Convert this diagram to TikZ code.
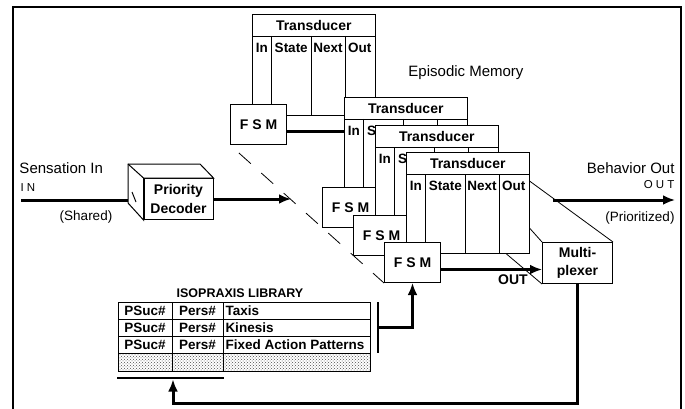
\documentclass[tikz,border=0pt]{standalone}
\usepackage{fontspec}
\setmainfont{Liberation Sans}
\usetikzlibrary{arrows.meta,backgrounds,patterns}

\begin{document}
\begin{tikzpicture}[
  x=1pt, y=-1pt, line width=1pt,
  every node/.style={font=\fontsize{14}{16}\selectfont\bfseries, inner sep=0pt},
  lbl/.style={font=\fontsize{15}{17}\selectfont},
  lblsmall/.style={font=\fontsize{13.5}{15}\selectfont},
  lblspaced/.style={font=\fontsize{11.5}{13}\selectfont},
  tbody/.style={draw, fill=white, anchor=north west, minimum width=122.5pt, minimum height=101pt},
  ttitle/.style={draw, fill=white, anchor=north west, minimum width=122.5pt, minimum height=22pt},
  hdr/.style={font=\fontsize{13.5}{15}\selectfont\bfseries},
  fsm/.style={draw, fill=white, anchor=north west, minimum width=56pt, minimum height=40pt},
  twoline/.style={draw, fill=white, align=center, font=\fontsize{14}{18.5}\selectfont\bfseries},
  cell/.style={font=\fontsize{13.5}{15}\selectfont\bfseries},
  flow/.style={line width=3pt},
  ray/.style={line width=0.8pt},
  frame/.style={line width=2.3pt},
  >={Latex[length=12pt,width=10pt]}
]
\useasboundingbox (0,0) rectangle (685,409);

% --- cadre ---
\draw[frame] (13,409) -- (13,7) -- (681,7) -- (681,409);

% --- entree et decodeur ---
\node[lbl, anchor=west] (sensin) at (19,168) {Sensation In};
\node[lblspaced, anchor=west] (inlbl) at (20,188) {I N};
\node[lblsmall] (shared) at (86,217) {(Shared)};
\coordinate (inpt) at (21,200);
\coordinate (stackin) at (291,199);

\node[twoline, minimum width=69pt, minimum height=41pt] (dec) at (178.5,199) {Priority\\Decoder};
\draw[flow] (inpt) -- (dec.west |- inpt);
\draw[fill=white] (dec.south west) -- (128,203) -- (128,164) -- (200,164) -- (dec.north east) -- (dec.north west) -- cycle;
\draw (dec.north west) -- (128,164);
\draw (132,192) -- (136,202);
\draw[flow,->] (dec.east) -- (stackin);

% --- Transducer 1 ---
\node[tbody] (tA) at (252,14) {};
\node[ttitle] (tAt) at (252,14) {Transducer};
\draw (271.5,36) -- (271.5,115) (311,36) -- (311,115) (345,36) -- (345,115);
\node[hdr] (tAin) at (261.75,48) {In};
\node[hdr] (tAst) at (291.25,48) {State};
\node[hdr] (tAnx) at (328,48) {Next};
\node[hdr] (tAout) at (359.75,48) {Out};
\node[fsm] (fsmA) at (230,104) {F S M};

\node[lbl] (epmem) at (466,73) {Episodic Memory};

% --- Transducer 2 (en partie cache) ---
\node[tbody] (tB) at (344,97) {};
\node[ttitle] (tBt) at (344,97) {Transducer};
\draw (363.5,119) -- (363.5,198) (403,119) -- (403,198) (437,119) -- (437,198);
\node[hdr] (tBin) at (353.75,131) {In};
\node[hdr, anchor=west] (tBst) at (366.5,131) {S};
\node[fsm] (fsmB) at (322,187) {F S M};
\draw[flow] ([yshift=-7pt]fsmA.east) -- ([yshift=-7pt]fsmA.east -| tB.west);

% --- Transducer 3 (en partie cache) ---
\node[tbody] (tC) at (375,125) {};
\node[ttitle] (tCt) at (375,125) {Transducer};
\draw (394.5,147) -- (394.5,226) (434,147) -- (434,226) (468,147) -- (468,226);
\node[hdr] (tCin) at (384.75,159) {In};
\node[hdr, anchor=west] (tCst) at (397.5,159) {S};
\node[fsm] (fsmC) at (353,215) {F S M};

% --- Transducer 4 (devant) ---
\node[tbody] (tD) at (406,152) {};
\node[ttitle] (tDt) at (406,152) {Transducer};
\draw (425.5,174) -- (425.5,253) (465,174) -- (465,253) (499,174) -- (499,253);
\node[hdr] (tDin) at (415.75,186) {In};
\node[hdr] (tDst) at (445.25,186) {State};
\node[hdr] (tDnx) at (482,186) {Next};
\node[hdr] (tDout) at (513.75,186) {Out};
\node[fsm] (fsmD) at (384,242) {F S M};

% --- multiplexeur et sortie ---
\node[twoline, anchor=north west, minimum width=70pt, minimum height=41pt] (mux) at (542,242) {Multi-\\plexer};
\draw[flow,->] ([yshift=-7pt]fsmD.east) -- ([yshift=-7pt]fsmD.east -| mux.west);
\node (outlbl) at (513,280) {OUT};

\coordinate (outsrc) at (553,200);
\coordinate (outdst) at (675,200);
\draw[flow,->] (outsrc) -- (outdst);
\node[lbl, anchor=east] (behout) at (675,168) {Behavior Out};
\node[lblspaced, anchor=east] (outsp) at (675,185) {O U T};
\node[lblsmall, anchor=east] (prio) at (675,218) {(Prioritized)};

% --- lignes de perspective, derriere ---
\begin{scope}[on background layer]
  \draw[ray, dash pattern=on 16pt off 14pt, dash phase=18pt] (fsmA.south west) -- (fsmD.south west);
  \draw[ray] ([yshift=-29pt]tD.north east) -- (mux.north east);
  \draw[ray] ([yshift=-76pt]tD.north east) -- (mux.north west);
  \draw[ray] ([xshift=-23pt]tD.south east) -- (mux.south west);
\end{scope}

% --- bibliotheque ---
\node[font=\fontsize{12.5}{14}\selectfont\bfseries] (libttl) at (240,293) {ISOPRAXIS LIBRARY};
\fill[pattern=crosshatch dots, pattern color=black!70] (118,353) rectangle (370,371);
\draw (118,302) rectangle (370,371);
\draw (118,319) -- (370,319) (118,336) -- (370,336) (118,353) -- (370,353);
\draw (172,302) -- (172,371) (223,302) -- (223,371);
\node[cell] (psA) at (145,310.5) {PSuc\#};
\node[cell] (psB) at (145,327.5) {PSuc\#};
\node[cell] (psC) at (145,344.5) {PSuc\#};
\node[cell] (peA) at (197.5,310.5) {Pers\#};
\node[cell] (peB) at (197.5,327.5) {Pers\#};
\node[cell] (peC) at (197.5,344.5) {Pers\#};
\node[cell, anchor=west] (taxis) at (225,310.5) {Taxis};
\node[cell, anchor=west] (kines) at (225,327.5) {Kinesis};
\node[cell, anchor=west] (fap) at (225,344.5) {Fixed Action Patterns};

\draw[line width=2pt] (378,302) -- (378,353);
\coordinate (libout) at (378,327);
\draw[flow,->] (libout) -| (fsmD.south);

\draw[line width=2.5pt] (117,378) -- (224,378);
\coordinate (libin) at (173,379.5);
\coordinate (fbk) at (0,403);
\draw[flow,->] (mux.south) -- (mux.south |- fbk) -- (libin |- fbk) -- (libin);

\end{tikzpicture}
\end{document}
